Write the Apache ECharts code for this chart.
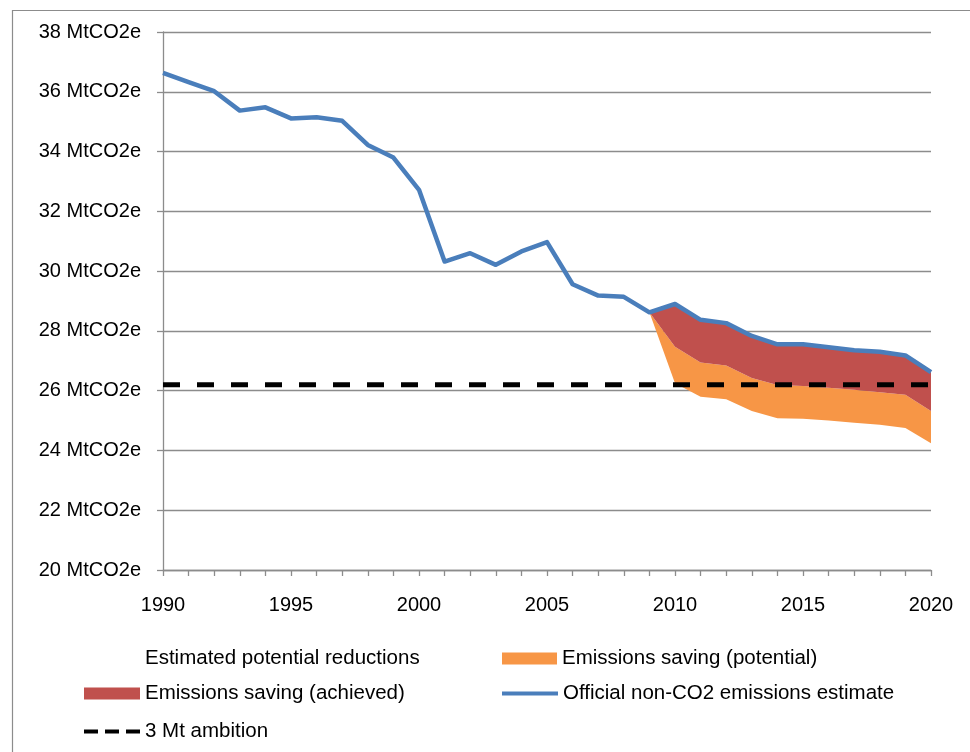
<!DOCTYPE html>
<html>
<head>
<meta charset="utf-8">
<script src="https://cdn.jsdelivr.net/npm/echarts@6/dist/echarts.min.js"></script>
<style>
  html, body { margin: 0; padding: 0; background: #fff; }
  #chart { width: 970px; height: 752px; }
</style>
</head>
<body>
<div id="chart"></div>
<script>
// Years on the horizontal axis
const years = [
  '1990','1991','1992','1993','1994','1995','1996','1997','1998','1999',
  '2000','2001','2002','2003','2004','2005','2006','2007','2008','2009',
  '2010','2011','2012','2013','2014','2015','2016','2017','2018','2019','2020'
];

// Official non-CO2 emissions estimate (MtCO2e)
const officialEstimate = [
  36.63, 36.32, 36.02, 35.37, 35.48, 35.11, 35.15, 35.03, 34.22, 33.80,
  32.72, 30.32, 30.60, 30.21, 30.66, 30.97, 29.56, 29.18, 29.14, 28.62,
  28.90, 28.37, 28.26, 27.83, 27.55, 27.55, 27.45, 27.35, 27.30, 27.18, 26.62
];

// Emissions level once achieved savings are taken off (lower edge of the red band)
const afterAchieved = [
  null, null, null, null, null, null, null, null, null, null,
  null, null, null, null, null, null, null, null, null, 28.62,
  27.47, 26.94, 26.84, 26.42, 26.19, 26.16, 26.10, 26.03, 25.95, 25.86, 25.32
];

// Emissions level once potential savings are also taken off (lower edge of the orange band)
const afterPotential = [
  null, null, null, null, null, null, null, null, null, null,
  null, null, null, null, null, null, null, null, null, 28.62,
  26.25, 25.80, 25.71, 25.32, 25.08, 25.06, 25.00, 24.93, 24.86, 24.75, 24.24
];

// 3 Mt ambition level
const ambition = [
  26.2, 26.2, 26.2, 26.2, 26.2, 26.2, 26.2, 26.2, 26.2, 26.2,
  26.2, 26.2, 26.2, 26.2, 26.2, 26.2, 26.2, 26.2, 26.2, 26.2,
  26.2, 26.2, 26.2, 26.2, 26.2, 26.2, 26.2, 26.2, 26.2, 26.2, 26.2
];

// Y axis range and step
const yMin = 20, yMax = 38, yStep = 2;
const unitSuffix = ' MtCO2e';

// Band thicknesses for the stacked areas
const potentialBand = afterPotential.map((v, i) =>
  v == null ? null : +(afterAchieved[i] - v).toFixed(3));
const achievedBand = afterAchieved.map((v, i) =>
  v == null ? null : +(officialEstimate[i] - v).toFixed(3));

const FONT = '"Liberation Sans", Arial, sans-serif';
const C_BLUE = '#4A7EBB', C_RED = '#C0504D', C_ORANGE = '#F79646';

const legendText = { fontFamily: FONT, fontSize: 20.5, color: '#000' };
// Legend glyphs: a plain stroke and a three-dash stroke
const ICON_LINE = 'path://M0,0H56V4H0Z';
const ICON_DASH = 'path://M0,0H14V4H0Z M21,0H35V4H21Z M42,0H56V4H42Z';

const chart = echarts.init(document.getElementById('chart'), null, { renderer: 'canvas' });
chart.setOption({
  backgroundColor: '#fff',
  animation: false,
  graphic: [{
    type: 'rect',
    left: 10, top: 8,
    shape: { width: 1000, height: 800 },
    style: { fill: 'none', stroke: '#8c8c8c', lineWidth: 1.2 },
    silent: true, z: -10
  }],
  grid: { left: 163, right: 39, top: 32, bottom: 182, containLabel: false },
  xAxis: {
    type: 'category',
    data: years,
    boundaryGap: false,
    axisLine: { lineStyle: { color: '#8c8c8c', width: 1.3 } },
    axisTick: { show: true, interval: 0, length: 6, lineStyle: { color: '#8c8c8c', width: 1.3 } },
    axisLabel: { interval: 4, margin: 25, fontFamily: FONT, fontSize: 20, color: '#000' },
    splitLine: { show: false }
  },
  yAxis: {
    type: 'value',
    min: yMin, max: yMax, interval: yStep,
    axisLine: { show: true, lineStyle: { color: '#8c8c8c', width: 1.3 } },
    axisTick: { show: true, length: 6, lineStyle: { color: '#8c8c8c', width: 1.3 } },
    axisLabel: {
      margin: 22, fontFamily: FONT, fontSize: 20, color: '#000',
      formatter: v => v + unitSuffix
    },
    splitLine: { lineStyle: { color: '#8c8c8c', width: 1.3 } }
  },
  legend: [
    { left: 84, top: 648, padding: 0, itemWidth: 56, itemHeight: 12, textStyle: legendText,
      data: [{ name: 'Estimated potential reductions', icon: 'rect', itemStyle: { opacity: 0 } }] },
    { left: 502, top: 648, padding: 0, itemWidth: 55, itemHeight: 12, textStyle: legendText,
      data: [{ name: 'Emissions saving (potential)', icon: 'rect' }] },
    { left: 84, top: 683, padding: 0, itemWidth: 56, itemHeight: 12, textStyle: legendText,
      data: [{ name: 'Emissions saving (achieved)', icon: 'rect' }] },
    { left: 502, top: 683, padding: 0, itemWidth: 56, itemHeight: 4, textStyle: legendText,
      data: [{ name: 'Official non-CO2 emissions estimate', icon: ICON_LINE }] },
    { left: 84, top: 721, padding: 0, itemWidth: 56, itemHeight: 4, textStyle: legendText,
      data: [{ name: '3 Mt ambition', icon: ICON_DASH }] }
  ],
  series: [
    {
      name: 'Estimated potential reductions',
      type: 'line', stack: 'savings', data: afterPotential,
      symbol: 'none', lineStyle: { width: 0, opacity: 0 },
      areaStyle: { opacity: 0 }, itemStyle: { color: 'rgba(0,0,0,0)' },
      z: 1, silent: true
    },
    {
      name: 'Emissions saving (potential)',
      type: 'line', stack: 'savings', data: potentialBand,
      symbol: 'none', lineStyle: { width: 0 },
      areaStyle: { color: C_ORANGE, opacity: 1 }, itemStyle: { color: C_ORANGE },
      z: 2
    },
    {
      name: 'Emissions saving (achieved)',
      type: 'line', stack: 'savings', data: achievedBand,
      symbol: 'none', lineStyle: { width: 0 },
      areaStyle: { color: C_RED, opacity: 1 }, itemStyle: { color: C_RED },
      z: 3
    },
    {
      name: '3 Mt ambition',
      type: 'line', data: ambition, symbol: 'none',
      lineStyle: { color: '#000', width: 5, type: [17, 17] },
      itemStyle: { color: '#000' },
      z: 4
    },
    {
      name: 'Official non-CO2 emissions estimate',
      type: 'line', data: officialEstimate, symbol: 'none',
      lineStyle: { color: C_BLUE, width: 4.5, join: 'round' },
      itemStyle: { color: C_BLUE },
      z: 5
    }
  ]
});
</script>
</body>
</html>
